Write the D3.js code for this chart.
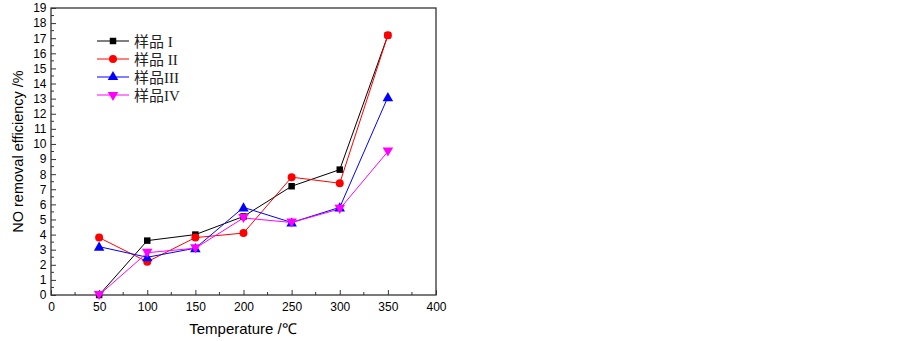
<!DOCTYPE html>
<html><head><meta charset="utf-8">
<script src="https://cdn.jsdelivr.net/npm/d3@7"></script>
<style>body{margin:0;background:#fff}</style>
</head><body><svg id="c" width="903" height="341"></svg>
<script>
const temps = [50, 100, 150, 200, 250, 300, 350];
const sample1 = [0, 3.6, 4.0, 5.2, 7.2, 8.3, 17.2];
const sample2 = [3.8, 2.2, 3.8, 4.1, 7.8, 7.4, 17.2];
const sample3 = [3.2, 2.5, 3.1, 5.8, 4.8, 5.8, 13.1];
const sample4 = [0, 2.8, 3.1, 5.1, 4.8, 5.7, 9.5];
const seriesNames = ["样品 I", "样品 II", "样品III", "样品IV"];
const xTicks = [0, 50, 100, 150, 200, 250, 300, 350, 400];
const yTicks = d3.range(0, 20, 1);

const series = [
  {name: seriesNames[0], values: sample1, color: "#000000", sym: d3.symbolSquare, rot: 0},
  {name: seriesNames[1], values: sample2, color: "#ff0000", sym: d3.symbolCircle, rot: 0},
  {name: seriesNames[2], values: sample3, color: "#0000ff", sym: d3.symbolTriangle, rot: 0},
  {name: seriesNames[3], values: sample4, color: "#ff00ff", sym: d3.symbolTriangle, rot: 180}
];

const svg = d3.select("#c");
const L = 51, R = 436, T = 8, B = 295;
const x = d3.scaleLinear().domain([0, 400]).range([L, R]);
const y = d3.scaleLinear().domain([0, 19]).range([B, T]);

// frame
svg.append("rect").attr("x", L).attr("y", T).attr("width", R - L).attr("height", B - T)
  .attr("fill", "none").attr("stroke", "#333").attr("stroke-width", 1.3);

// x axis
const gx = svg.append("g").attr("transform", `translate(0,${B})`);
gx.call(d3.axisBottom(x).tickValues(xTicks).tickSize(-5).tickPadding(7).tickFormat(d3.format("d")));
gx.selectAll(".tick text").attr("font-family", "Liberation Sans, Arial, sans-serif").attr("font-size", 12).attr("fill", "#000");
gx.select(".domain").remove();
gx.selectAll(".tick line").attr("stroke", "#333");
svg.append("g").selectAll("line").data(d3.range(25, 400, 50)).join("line")
  .attr("x1", d => x(d)).attr("x2", d => x(d)).attr("y1", B).attr("y2", B - 3).attr("stroke", "#333");

// y axis
const gy = svg.append("g").attr("transform", `translate(${L},0)`);
gy.call(d3.axisLeft(y).tickValues(yTicks).tickSize(-5).tickPadding(4.5).tickFormat(d3.format("d")));
gy.selectAll(".tick text").attr("font-family", "Liberation Sans, Arial, sans-serif").attr("font-size", 12).attr("fill", "#000");
gy.select(".domain").remove();
gy.selectAll(".tick line").attr("stroke", "#333");
svg.append("g").selectAll("line").data(d3.range(0.5, 19, 1)).join("line")
  .attr("x1", L).attr("x2", L + 3).attr("y1", d => y(d)).attr("y2", d => y(d)).attr("stroke", "#333");

// labels
svg.append("text").attr("x", 243).attr("y", 334).attr("text-anchor", "middle")
  .attr("font-family", "Liberation Sans, Arial, sans-serif").attr("font-size", 15).text("Temperature /℃");
svg.append("text").attr("transform", `translate(23,${(T + B) / 2}) rotate(-90)`).attr("text-anchor", "middle")
  .attr("font-family", "Liberation Sans, Arial, sans-serif").attr("font-size", 14.5).text("NO removal efficiency /%");

// lines
const line = d3.line().x((d, i) => x(temps[i])).y(d => y(d));
series.forEach(s => {
  svg.append("path").attr("d", line(s.values)).attr("fill", "none").attr("stroke", s.color).attr("stroke-width", 1);
});
series.forEach(s => {
  const sz = s.sym === d3.symbolSquare ? 42 : (s.sym === d3.symbolCircle ? 50 : 48);
  svg.append("g").selectAll("path").data(s.values).join("path")
    .attr("d", d3.symbol().type(s.sym).size(sz))
    .attr("transform", (d, i) => `translate(${x(temps[i])},${y(d) + (s.rot ? -1 : (s.sym === d3.symbolTriangle ? 1 : 0))}) rotate(${s.rot})`)
    .attr("fill", s.color);
});

// legend
const lg = svg.append("g");
series.forEach((s, i) => {
  const yy = 41 + i * 18;
  lg.append("line").attr("x1", 97).attr("x2", 129).attr("y1", yy).attr("y2", yy).attr("stroke", s.color).attr("stroke-width", 1);
  const sz = s.sym === d3.symbolSquare ? 42 : (s.sym === d3.symbolCircle ? 50 : 48);
  lg.append("path").attr("d", d3.symbol().type(s.sym).size(sz))
    .attr("transform", `translate(113,${yy}) rotate(${s.rot})`).attr("fill", s.color);
  lg.append("text").attr("x", 134).attr("y", yy + 5.5)
    .attr("font-family", "Liberation Serif, 'Noto Sans CJK SC', serif").attr("font-size", 15).attr("fill", "#222").text(s.name);
});
</script></body></html>
